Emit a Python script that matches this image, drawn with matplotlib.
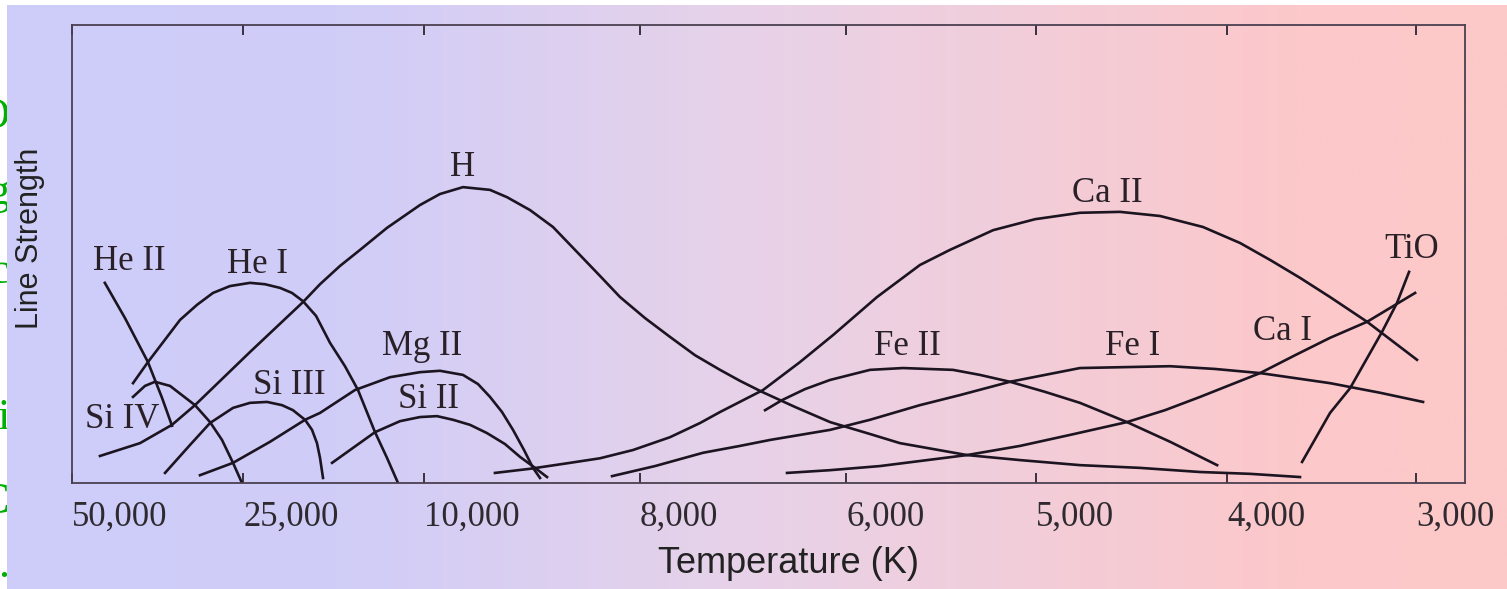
import numpy as np
import matplotlib
matplotlib.use('Agg')
import matplotlib.pyplot as plt

# temperature axis (K)
T_TICKS = [50000, 25000, 10000, 8000, 6000, 5000, 4000, 3000]
TICK_LABELS = ['50,000', '25,000', '10,000', '8,000', '6,000', '5,000', '4,000', '3,000']

# line strength (arbitrary units 0-100)
he2_t = [45200, 42250, 38900, 36840, 35380]
he2_s = [43.7, 36.0, 26.4, 18.6, 12.5]

he1_t = [41080, 38900, 34210, 31725, 29390, 26900, 24420, 23180, 21930, 20940, 20030,
         18950, 17790, 16550, 15470, 14060, 13070, 12155]
he1_s = [21.8, 26.4, 35.6, 38.9, 41.5, 43.0, 43.7, 43.4, 42.6, 41.5, 39.7,
         36.5, 30.6, 25.5, 20.3, 11.1, 5.5, 0.0]

si4_t = [41080, 39330, 37870, 35670, 32020, 29820, 28070, 26460, 25150]
si4_s = [18.8, 21.2, 22.1, 21.2, 17.0, 13.3, 9.4, 4.4, 0.0]

h_t = [45910, 40060, 35380, 32020, 24420, 20030, 18620, 16960, 15300, 13070, 10330, 9852,
       9639, 9389, 9231, 9019, 8806, 8602, 8370, 8185, 7951, 7709, 7466, 7223, 7029,
       6816, 6495, 6155, 5874, 5716, 5363, 5084, 4770, 4455, 4141, 3878, 3614]
h_s = [5.9, 8.7, 12.7, 17.0, 28.6, 39.5, 43.4, 47.4, 50.9, 55.7, 60.7, 63.1,
       64.6, 64.0, 62.4, 59.6, 55.9, 50.9, 45.2, 40.6, 36.0, 31.9, 27.9, 24.7, 22.3,
       19.9, 16.6, 13.3, 10.7, 8.7, 6.1, 5.0, 3.9, 3.3, 2.4, 2.0, 1.3]

si3_t = [36400, 32750, 29820, 26460, 24420, 23010, 21770, 20860, 19860, 19280, 18870, 18620, 18370]
si3_s = [2.2, 8.3, 13.1, 16.4, 17.5, 17.7, 17.0, 15.9, 13.8, 11.6, 8.7, 5.5, 1.1]

mg2_t = [31290, 26460, 22760, 19860, 18620, 15720, 12820, 10330, 9852, 9639, 9500,
         9389, 9278, 9176, 9074, 8991, 8926]
mg2_s = [1.7, 4.4, 9.0, 13.8, 15.3, 20.3, 23.1, 24.2, 24.5, 23.6, 21.6,
         18.8, 15.5, 11.6, 7.2, 3.3, 1.1]

si2_t = [17620, 14060, 11990, 10330, 9880, 9731, 9574, 9417, 9250, 9111, 8972, 8861]
si2_s = [4.4, 11.1, 13.5, 14.4, 14.6, 13.8, 12.7, 10.9, 8.5, 5.7, 3.3, 1.3]

ca2_t = [9343, 9019, 8648, 8370, 8065, 7709, 7417, 7223, 6806, 6447, 6126, 5837, 5611,
         5453, 5226, 5005, 4770, 4560, 4351, 4126, 3931, 3772, 3614, 3455, 3259, 2995]
ca2_s = [2.2, 3.1, 4.4, 5.4, 7.2, 10.0, 13.1, 15.5, 20.3, 26.4, 32.3, 40.6, 47.6,
         50.9, 55.2, 57.6, 59.0, 59.2, 58.3, 55.9, 52.4, 48.7, 44.8, 40.6, 35.2, 26.9]

fe2_t = [6786, 6621, 6398, 6155, 5874, 5700, 5437, 5295, 5137, 4953, 4770, 4524, 4298, 4052]
fe2_s = [15.9, 18.1, 20.5, 22.5, 24.7, 25.1, 24.7, 23.6, 22.1, 19.9, 17.5, 13.3, 9.0, 3.9]

fe1_t = [8259, 7854, 7388, 7029, 6738, 6155, 5874, 5611, 5400, 5137, 4770, 4534,
         4298, 4063, 3825, 3455, 3190, 2963]
fe1_s = [1.5, 3.7, 6.6, 8.1, 9.4, 11.6, 13.8, 17.0, 19.2, 22.1, 25.1, 25.3,
         25.5, 24.9, 24.0, 21.8, 19.7, 17.7]

ca1_t = [6573, 6155, 5821, 5363, 5084, 4822, 4524, 4325, 4141, 3984, 3825, 3640, 3455, 3259, 3005]
ca1_s = [2.2, 2.8, 3.7, 6.1, 8.1, 10.5, 13.3, 15.9, 18.8, 21.4, 24.0, 27.9, 31.7, 35.2, 41.5]

tio_t = [3603, 3455, 3349, 3180, 3101, 3037]
tio_s = [4.6, 15.3, 20.7, 33.0, 39.3, 46.1]

# curve labels
LABELS = ['He II', 'He I', 'H', 'Si IV', 'Si III', 'Mg II', 'Si II', 'Fe II', 'Ca II', 'Fe I', 'Ca I', 'TiO']
LABEL_T = [41670, 23840, 9639, 42690, 21190, 10170, 9954, 5679, 4628, 4492, 3704, 3021]
LABEL_S = [48.3, 47.6, 68.8, 13.8, 21.2, 29.7, 18.3, 29.9, 63.3, 29.9, 33.0, 50.9]

curves = [(he2_t, he2_s), (he1_t, he1_s), (si4_t, si4_s), (h_t, h_s), (si3_t, si3_s),
          (mg2_t, mg2_s), (si2_t, si2_s), (ca2_t, ca2_s), (fe2_t, fe2_s), (fe1_t, fe1_s),
          (ca1_t, ca1_s), (tio_t, tio_s)]

# the temperature axis is stretched piecewise (spectral-class spacing)
scale_t = np.array([80000, 50000, 25000, 10000, 8000, 6000, 5000, 4000, 3000, 2000])
scale_pos = np.array([-205, 0, 171, 352, 568, 774, 964, 1155, 1344, 1533])


# forward must increase with T; the axis is then inverted via xlim
def fwd(t):
    return -np.interp(-np.asarray(t, float), -scale_t, scale_pos)


def inv(p):
    return -np.interp(-np.asarray(p, float), scale_pos, -scale_t)


W, H = 1507, 589
fig = plt.figure(figsize=(W / 100, H / 100), dpi=100)
fig.patch.set_facecolor('white')

# slide text peeking in at the left edge
for ch, yy in zip(['O', 'g', 'c', 'i', 'C', '.'], [117, 193, 272, 418, 502, 566]):
    fig.text(9 / W, 1 - yy / H, ch, color='#00b000', fontsize=32, family='Liberation Serif',
             ha='right', va='center', zorder=-2)

# lavender -> pink background
bg = fig.add_axes([7 / W, 0, 1 - 7 / W, 584 / H], zorder=-1)
xs = np.linspace(0, 1, 800)
stops = [0, 0.22, 0.5, 0.86, 1]
r = np.interp(xs, stops, [206, 208, 232, 252, 253])
g = np.interp(xs, stops, [205, 205, 210, 200, 200])
b = np.interp(xs, stops, [250, 248, 232, 202, 200])
bg.imshow(np.stack([r, g, b], axis=-1)[None, :, :] / 255, aspect='auto', extent=[0, 1, 0, 1])
bg.axis('off')

ax = fig.add_axes([72 / W, 106 / H, 1393 / W, 458 / H])
ax.set_facecolor('none')
ax.set_xscale('function', functions=(fwd, inv))
ax.set_xlim(50000, 2741)
ax.set_ylim(0, 100)

for t, s in curves:
    ax.plot(t, s, color='#1c1420', lw=1.9, solid_joinstyle='round')

for name, t, s in zip(LABELS, LABEL_T, LABEL_S):
    ax.text(t, s, name, ha='center', va='center', fontsize=25,
            family='Liberation Serif', color='#2a2028')

ax.set_xticks(T_TICKS)
ax.set_xticklabels(TICK_LABELS, fontsize=25, family='Liberation Serif', color='#2e2a30', ha='left')
ax.set_yticks([])
ax.tick_params(axis='x', direction='in', top=True, length=7, width=1.4, color='#3a3040', pad=13)
for sp in ax.spines.values():
    sp.set_color('#4a4050')
    sp.set_linewidth(1.3)

ax.set_xlabel('Temperature (K)', fontsize=26, family='Liberation Sans', color='#222222', va='center')
ax.xaxis.set_label_coords(0.514, -0.175)
ax.set_ylabel('Line Strength', fontsize=22, family='Liberation Sans', color='#222222', va='center')
ax.yaxis.set_label_coords(-0.030, 0.535)

fig.savefig('out.png', dpi=100)
